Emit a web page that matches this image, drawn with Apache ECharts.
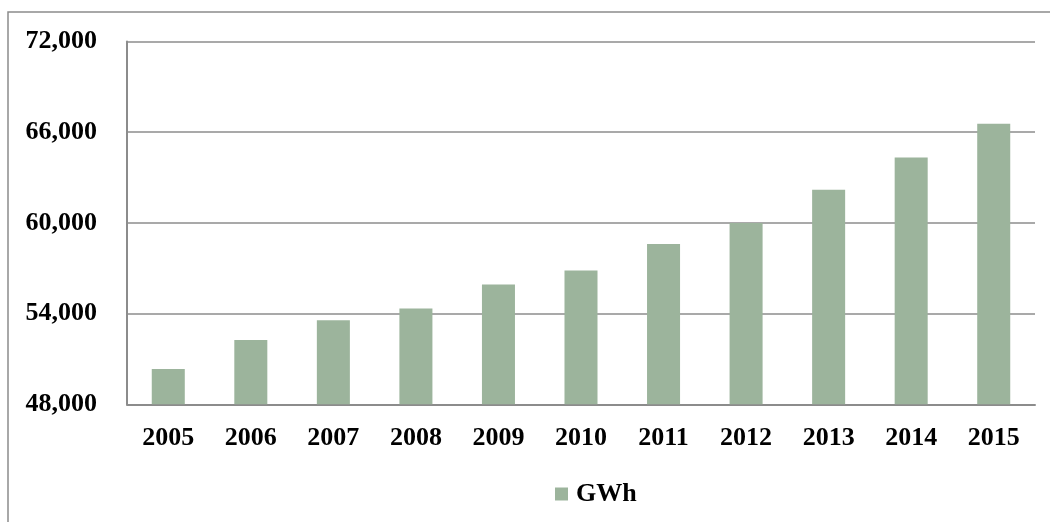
<!DOCTYPE html>
<html>
<head>
<meta charset="utf-8">
<script src="https://cdn.jsdelivr.net/npm/echarts@6/dist/echarts.min.js"></script>
<style>
  html, body { margin: 0; padding: 0; background: #fff; }
  #chart { width: 1050px; height: 522px; }
</style>
</head>
<body>
<div id="chart"></div>
<script>
  // years and generation in GWh
  var years = ['2005', '2006', '2007', '2008', '2009', '2010', '2011', '2012', '2013', '2014', '2015'];
  var gwh = [50340, 52260, 53560, 54330, 55920, 56850, 58600, 60000, 62190, 64330, 66560];
  var seriesName = 'GWh';

  var chart = echarts.init(document.getElementById('chart'));
  var font = 'Liberation Serif, Times New Roman, serif';

  chart.setOption({
    animation: false,
    textStyle: { fontFamily: font },
    graphic: [
      {
        // outer frame, only left and top edges are visible
        type: 'rect',
        shape: { x: 8, y: 12, width: 1200, height: 700 },
        style: { fill: 'none', stroke: '#8c8c8c', lineWidth: 1.5 },
        silent: true
      }
    ],
    grid: {
      left: 127,
      right: 15,
      top: 41.5,
      bottom: 117.7
    },
    legend: {
      data: [seriesName],
      left: 550,
      top: 476,
      icon: 'rect',
      itemWidth: 13,
      itemHeight: 13,
      itemGap: 8,
      textStyle: { fontFamily: font, fontSize: 26, fontWeight: 'bold', color: '#000', padding: [0, 0, 0, 3] }
    },
    xAxis: {
      type: 'category',
      data: years,
      axisLine: { lineStyle: { color: '#8c8c8c', width: 2 } },
      axisTick: { show: false },
      axisLabel: { fontFamily: font, fontSize: 26, fontWeight: 'bold', color: '#000', margin: 21 }
    },
    yAxis: {
      type: 'value',
      min: 48000,
      max: 72000,
      interval: 6000,
      axisLine: { show: true, lineStyle: { color: '#8c8c8c', width: 2 } },
      axisTick: { show: false },
      splitLine: { lineStyle: { color: '#8c8c8c', width: 1.5 } },
      axisLabel: {
        fontFamily: font, fontSize: 26, fontWeight: 'bold', color: '#000', margin: 30,
        formatter: function (v) { return v.toLocaleString('en-US'); }
      }
    },
    series: [
      {
        name: seriesName,
        type: 'bar',
        data: gwh,
        barWidth: '40%',
        itemStyle: { color: '#9cb49c' }
      }
    ]
  });
</script>
</body>
</html>
